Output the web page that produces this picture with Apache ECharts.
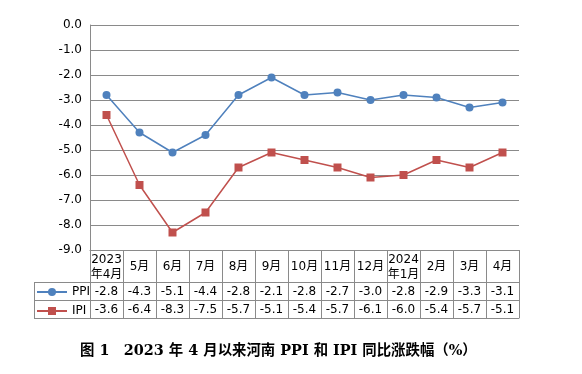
<!DOCTYPE html>
<html><head><meta charset="utf-8">
<script src="https://cdn.jsdelivr.net/npm/echarts@6/dist/echarts.min.js"></script>
<style>html,body{margin:0;padding:0;background:#fff}#c{width:582px;height:374px}</style>
</head><body><div id="c"></div>
<script>
const categories = ['2023\n年4月','5月','6月','7月','8月','9月','10月','11月','12月','2024\n年1月','2月','3月','4月'];
const ppi = [-2.8,-4.3,-5.1,-4.4,-2.8,-2.1,-2.8,-2.7,-3.0,-2.8,-2.9,-3.3,-3.1];
const ipi = [-3.6,-6.4,-8.3,-7.5,-5.7,-5.1,-5.4,-5.7,-6.1,-6.0,-5.4,-5.7,-5.1];
const yTicks = {min:-9, max:0, interval:1};
const titleText = '图 1　2023 年 4 月以来河南 PPI 和 IPI 同比涨跌幅（%）';

const FONT = 'DejaVu Sans, Noto Sans CJK SC, sans-serif';
const LINE = '#8a8a8a';
const chart = echarts.init(document.getElementById('c'));
const rowAxis = (offset, tickLen, fmt, showLabel) => ({
  type:'category', data:categories, position:'bottom', offset:offset, boundaryGap:true,
  axisLine:{show:true, onZero:false, lineStyle:{color:LINE, width:1}},
  axisTick:{show:tickLen>0, length:tickLen, interval:0, lineStyle:{color:LINE}},
  axisLabel:{show:showLabel, interval:0, margin:tickLen/2 + 1, verticalAlign:'middle', color:'#000',
    fontSize:12, fontFamily:FONT, lineHeight:15, formatter:fmt},
  splitLine:{show:false}
});
chart.setOption({
  animation:false,
  title:{text:titleText, left:75, top:339,
    textStyle:{fontFamily:'DejaVu Serif, Noto Sans CJK SC', fontWeight:'bold', fontSize:14.4, color:'#000'}},
  grid:{left:90, right:63, top:25, bottom:124, containLabel:false},
  legend:{orient:'vertical', left:36, top:285, padding:0, itemGap:5, itemWidth:30, itemHeight:10,
    textStyle:{fontFamily:FONT, fontSize:12, color:'#000', lineHeight:14},
    data:['PPI','IPI']},
  xAxis:[
    rowAxis(0, 32, (v)=>v, true),
    rowAxis(32, 18, (v,i)=>ppi[i].toFixed(1), true),
    rowAxis(50, 18, (v,i)=>ipi[i].toFixed(1), true),
    rowAxis(68, 0, (v)=>'', false)
  ],
  yAxis:{type:'value', min:yTicks.min, max:yTicks.max, interval:yTicks.interval,
    axisLine:{show:true, lineStyle:{color:LINE}}, axisTick:{show:false},
    axisLabel:{margin:8, color:'#000', fontSize:12, fontFamily:FONT, formatter:(v)=>v.toFixed(1)},
    splitLine:{lineStyle:{color:LINE, width:1}}},
  series:[
    {name:'PPI', type:'line', data:ppi, symbol:'circle', symbolSize:8,
      itemStyle:{color:'#4F81BD'}, lineStyle:{color:'#4F81BD', width:1.5}},
    {name:'IPI', type:'line', data:ipi, symbol:'rect', symbolSize:8,
      itemStyle:{color:'#C0504D'}, lineStyle:{color:'#C0504D', width:1.5}}
  ],
  graphic:[
    {type:'line', shape:{x1:34,y1:282.5,x2:90,y2:282.5}, style:{stroke:LINE, lineWidth:1}},
    {type:'line', shape:{x1:34,y1:300.5,x2:90,y2:300.5}, style:{stroke:LINE, lineWidth:1}},
    {type:'line', shape:{x1:34,y1:318.5,x2:90,y2:318.5}, style:{stroke:LINE, lineWidth:1}},
    {type:'line', shape:{x1:34.5,y1:282,x2:34.5,y2:319}, style:{stroke:LINE, lineWidth:1}}
  ]
});
</script></body></html>
